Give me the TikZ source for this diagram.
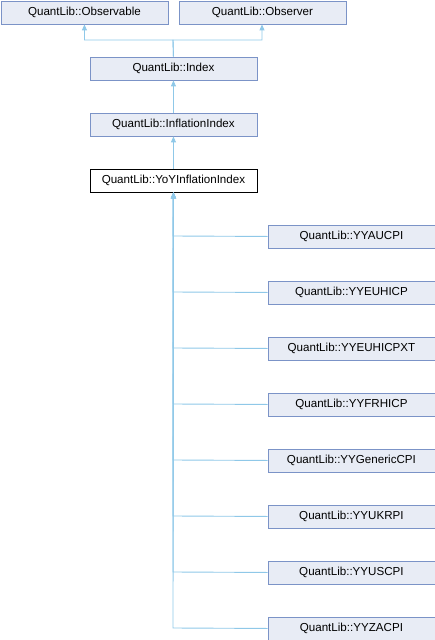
\documentclass[tikz,border=0pt]{standalone}
\usepackage{fontspec}
\setmainfont{Liberation Sans}
\usetikzlibrary{arrows.meta}
\definecolor{boxfill}{HTML}{E8ECF5}
\definecolor{boxdraw}{HTML}{7B93C7}
\definecolor{edgecol}{HTML}{8FC8E8}
\tikzset{
  cls/.style={draw=boxdraw, fill=boxfill, line width=0.9pt, minimum width=167pt, minimum height=23pt, inner sep=0pt, font=\fontsize{11.6}{12}\selectfont, anchor=north west},
  cur/.style={cls, draw=black, fill=white},
  inh/.style={draw=edgecol, line width=0.9pt, -{Triangle[width=5pt,length=6pt,fill=edgecol]}},
}
\begin{document}
\begin{tikzpicture}[x=1pt,y=-1pt]
\useasboundingbox (0,0) rectangle (435,640);
\node[cls] (obs) at (0.5,0.5) {QuantLib::Observable};
\node[cls] (obr) at (178.5,0.5) {QuantLib::Observer};
\node[cls] (idx) at (89.5,56.5) {QuantLib::Index};
\node[cls] (inf) at (89.5,112.5) {QuantLib::InflationIndex};
\node[cur] (yoy) at (89.5,168.5) {QuantLib::YoYInflationIndex};
\foreach \n/\t [count=\i from 0] in {au/YYAUCPI,eu/YYEUHICP,eux/YYEUHICPXT,fr/YYFRHICP,gen/YYGenericCPI,uk/YYUKRPI,us/YYUSCPI,za/YYZACPI}{
  \node[cls] (\n) at (267.5,224.5+56*\i) {QuantLib::\t};
  \draw[inh] (\n.west) -- (173,236+56*\i) -- (yoy.south);
}
\coordinate (j) at (173,40);
\draw[inh] (idx.north) -- (j) -| (obs.south);
\draw[inh] (idx.north) -- (j) -| (obr.south -| 262,0);
\draw[inh] (inf.north) -- (idx.south);
\draw[inh] (yoy.north) -- (inf.south);
\end{tikzpicture}
\end{document}
